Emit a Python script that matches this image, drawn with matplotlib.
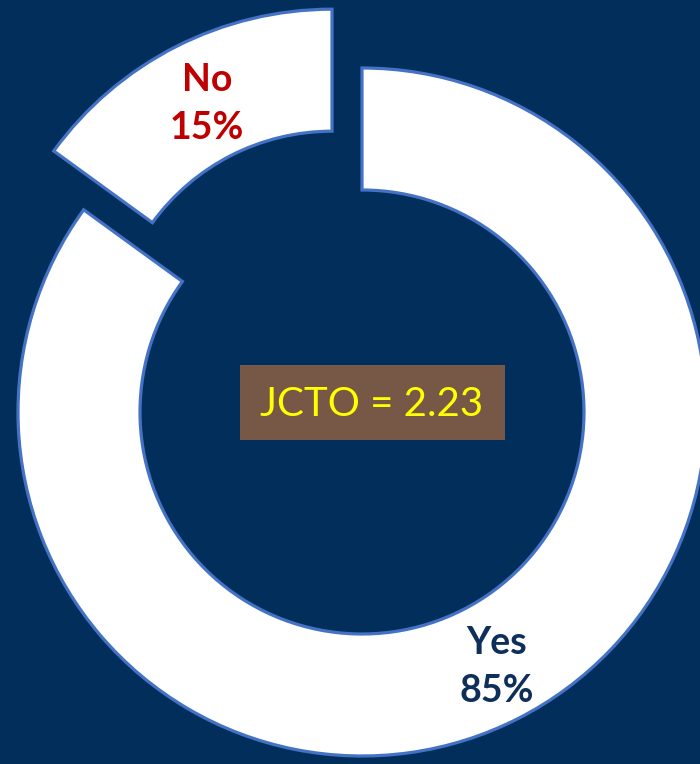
import matplotlib.pyplot as plt
from matplotlib.patches import Rectangle

labels = ["Yes", "No"]
shares = [85, 15]
label_colors = ["#0D2F5A", "#C00000"]
center_text = "JCTO = 2.23"

bg = "#012E5B"

fig = plt.figure(figsize=(7, 7.64), dpi=100)
fig.patch.set_facecolor(bg)
ax = fig.add_axes([0, 0, 1, 1])
ax.set_facecolor(bg)

cx, cy, r = 362, 352, 344
# explode and width are in data units (pixels here)
wedges, _ = ax.pie(shares, radius=r, center=(cx, cy), startangle=90,
                   counterclock=False, explode=[0, 66], frame=True,
                   wedgeprops=dict(width=122, facecolor="white",
                                   edgecolor="#4472C4", linewidth=2.3))
ax.set_xlim(0, 700)
ax.set_ylim(0, 764)
ax.set_aspect("equal")
ax.axis("off")

# slice labels
ax.text(497, 764 - 667, f"{labels[0]}\n{shares[0]}%", ha="center", va="center",
        fontsize=27, fontweight="bold", family="Lato", color=label_colors[0],
        linespacing=1.5)
ax.text(207, 764 - 104, f"{labels[1]}\n{shares[1]}%", ha="center", va="center",
        fontsize=27, fontweight="bold", family="Lato", color=label_colors[1],
        linespacing=1.5)

# centre box
ax.add_patch(Rectangle((240, 764 - 440), 265, 75, facecolor="#775847",
                       edgecolor="none", zorder=3))
ax.text(372, 764 - 404, center_text, ha="center", va="center", fontsize=29,
        family="Lato", color="#FFFF00", zorder=4)

fig.savefig("out.png", dpi=100, facecolor=bg)
